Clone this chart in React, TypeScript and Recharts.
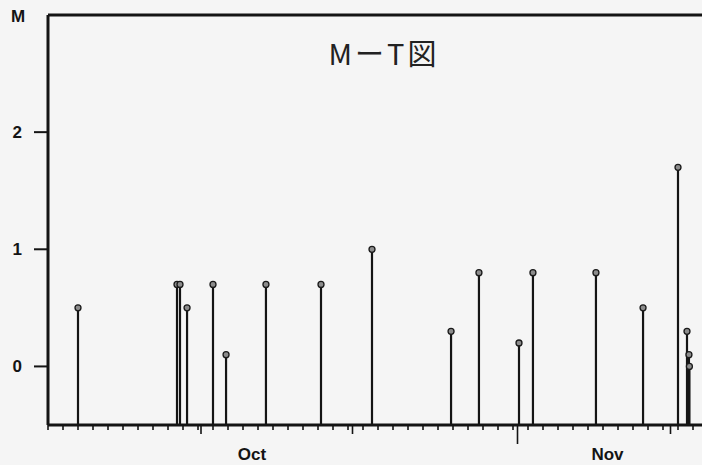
import React from 'react';
import { ComposedChart, Scatter, ErrorBar, XAxis, YAxis, ReferenceLine } from 'recharts';

// event time (in axis day units) and magnitude
const eventDays = [2.0, 8.6, 8.8, 9.27, 11.0, 11.87, 14.53, 18.2, 21.6, 26.87, 28.73, 31.4, 32.33, 36.53, 39.67, 42.0, 42.6, 42.73, 42.76];
const magnitudes = [0.5, 0.7, 0.7, 0.5, 0.7, 0.1, 0.7, 0.7, 1.0, 0.3, 0.8, 0.2, 0.8, 0.8, 0.5, 1.7, 0.3, 0.1, 0.0];

const monthLabels = ['Oct', 'Nov'];
const monthLabelDays = [13.6, 37.3];
const markerDays = [10.2, 20.3, 41.5];
const longMarkerDay = 31.3;
const dayTicks = Array.from({ length: 46 }, (_, i) => i);
const magnitudeTicks = [0, 1, 2];

const M_MIN = -0.5;
const M_MAX = 3;
const DAY_MAX = 45;

const data = eventDays.map((day, i) => ({
  day,
  m: magnitudes[i],
  err: [magnitudes[i] - M_MIN, 0],
}));

const xTicks = [...dayTicks, ...markerDays, longMarkerDay, ...monthLabelDays];

const ink = '#141414';
const labelFont = '"Liberation Sans", Arial, sans-serif';

const XTick = (props: any) => {
  const { x, y, payload } = props;
  const v = payload.value;
  const li = monthLabelDays.indexOf(v);
  if (li >= 0) {
    return (
      <text x={x} y={y + 35} textAnchor="middle" fontFamily={labelFont} fontWeight="bold" fontSize={17} fill={ink}>
        {monthLabels[li]}
      </text>
    );
  }
  let len = 5;
  if (v === longMarkerDay) len = 19;
  else if (markerDays.includes(v)) len = 9;
  return <line x1={x} x2={x} y1={y} y2={y + len} stroke={ink} strokeWidth={1.6} />;
};

const Dot = (p: any) => (
  <circle cx={p.cx} cy={p.cy} r={3} fill="#8c8c8c" stroke="#1a1a1a" strokeWidth={1.3} />
);

const App: React.FC = () => (
  <div style={{ position: 'absolute', left: 0, top: 0, width: 702, height: 465, overflow: 'hidden', background: '#f5f5f5' }}>
    <ComposedChart width={723} height={465} data={data} margin={{ top: 15, right: 0, left: 0, bottom: 0 }}>
      <XAxis
        dataKey="day"
        type="number"
        domain={[0, DAY_MAX]}
        ticks={xTicks}
        interval={0}
        height={40}
        tickSize={0}
        tickMargin={0}
        tick={<XTick />}
        axisLine={{ stroke: ink, strokeWidth: 3 }}
        allowDataOverflow
      />
      <YAxis
        type="number"
        domain={[M_MIN, M_MAX]}
        ticks={magnitudeTicks}
        width={48}
        tickSize={14}
        tickMargin={12}
        axisLine={{ stroke: ink, strokeWidth: 3 }}
        tickLine={{ stroke: ink, strokeWidth: 2 }}
        tick={{ fill: ink, fontSize: 17, fontWeight: 'bold', fontFamily: labelFont }}
        allowDataOverflow
      />
      <ReferenceLine y={M_MAX} stroke={ink} strokeWidth={3} ifOverflow="visible" />
      <Scatter dataKey="m" shape={() => null} isAnimationActive={false}>
        <ErrorBar dataKey="err" direction="y" width={0} stroke={ink} strokeWidth={2.2} isAnimationActive={false} />
      </Scatter>
      <Scatter dataKey="m" shape={<Dot />} isAnimationActive={false} />
    </ComposedChart>
    <svg width={702} height={465} style={{ position: 'absolute', left: 0, top: 0, pointerEvents: 'none' }}>
      <text x={11} y={22} fontFamily={labelFont} fontWeight="bold" fontSize={17} fill={ink}>M</text>
      <text x={384} y={65} textAnchor="middle" fontFamily='"Noto Sans CJK JP", sans-serif' fontSize={29} letterSpacing={3} fill="#222">
        MーT図
      </text>
    </svg>
  </div>
);

export default App;
